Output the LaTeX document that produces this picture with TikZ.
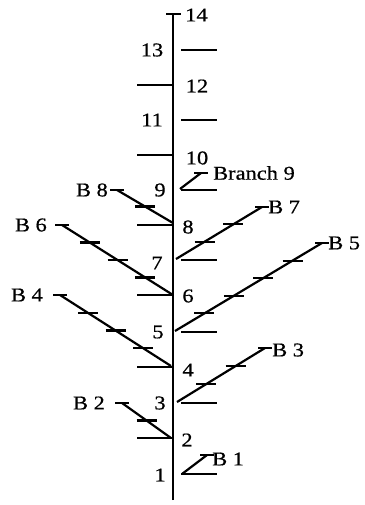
\documentclass[tikz,border=0pt]{standalone}
\usepackage{fontspec}
\setmainfont{Liberation Serif}
\newfontfamily\labfont[FakeStretch=1.15,FakeBold=0.6]{Liberation Serif}
\usetikzlibrary{calc}
\begin{document}
\begin{tikzpicture}[x=1pt,y=-1pt,
  stem/.style={line width=2.4pt},
  br/.style={line width=2.2pt},
  tk/.style={line width=2.1pt},
  lab/.style={font=\labfont\fontsize{19.5}{22}\selectfont, inner sep=0pt}]
\useasboundingbox[fill=white] (0,0) rectangle (364,505);
% main stem
\coordinate (bot) at (173,500);
\coordinate (top) at (173,13);
\draw[stem] (bot) -- (top);
% stem node ticks: right side (odd) and left side (even)
\foreach \i/\y in {1/474,3/403,5/332,7/260,9/190,11/120,13/50}{
  \coordinate (n\i a) at (181,\y);
  \coordinate (n\i b) at (217,\y);
  \draw[tk] (n\i a) -- (n\i b);
}
\foreach \i/\y in {2/438,4/367,6/295,8/225,10/155,12/85}{
  \coordinate (n\i a) at (137,\y);
  \coordinate (n\i b) at (173,\y);
  \draw[tk] (n\i a) -- (n\i b);
}
\coordinate (n14a) at (166,14);
\coordinate (n14b) at (181,14);
\draw[tk] (n14a) -- (n14b);
% node numbers
\foreach \i/\x/\y in {1/160/475,3/160/403,5/158/332,7/157/263,9/160/190,11/152/120,13/152/50}{
  \node[lab] (l\i) at (\x,\y) {\i};
}
\foreach \i/\x/\y in {2/187/440,4/188/370,6/188/296,8/188/227,10/197/158,12/197/86}{
  \node[lab] (l\i) at (\x,\y) {\i};
}
\node[lab, anchor=west] (l14) at (185,15) {14};
% branches
\foreach \k/\sx/\sy/\tx/\ty in {1/182/474/207/455, 2/171/438/122/403, 3/177/402/265/348,
  4/171/366/60/295, 5/175/331/322/243, 6/173/295/62/225, 7/176/259/262/207,
  8/173/223/117/190, 9/180/189/201/173}{
  \coordinate (b\k s) at (\sx,\sy);
  \coordinate (b\k t) at (\tx,\ty);
  \draw[br] (b\k s) -- (b\k t);
  \draw[tk] ([xshift=-7pt]b\k t) -- ([xshift=7pt]b\k t);
}
% internode ticks on branches
\foreach \k/\n in {2/2,3/3,4/4,5/5,6/4,7/3,8/2}{
  \pgfmathtruncatemacro{\m}{\n-1}
  \foreach \j in {1,...,\m}{
    \coordinate (b\k k\j) at ($(b\k s)!\j/\n!(b\k t)$);
    \draw[tk] ([xshift=-10pt]b\k k\j) -- ([xshift=10pt]b\k k\j);
  }
}
% branch labels
\node[lab, anchor=west] (L1) at (212,459) {B 1};
\node[lab, anchor=east] (L2) at (105,403) {B 2};
\node[lab, anchor=west] (L3) at (272,350) {B 3};
\node[lab, anchor=east] (L4) at (43,295) {B 4};
\node[lab, anchor=west] (L5) at (328,243) {B 5};
\node[lab, anchor=east] (L6) at (47,225) {B 6};
\node[lab, anchor=west] (L7) at (268,207) {B 7};
\node[lab, anchor=east] (L8) at (108,190) {B 8};
\node[lab, anchor=west] (L9) at (213,173) {Branch 9};
\end{tikzpicture}
\end{document}
